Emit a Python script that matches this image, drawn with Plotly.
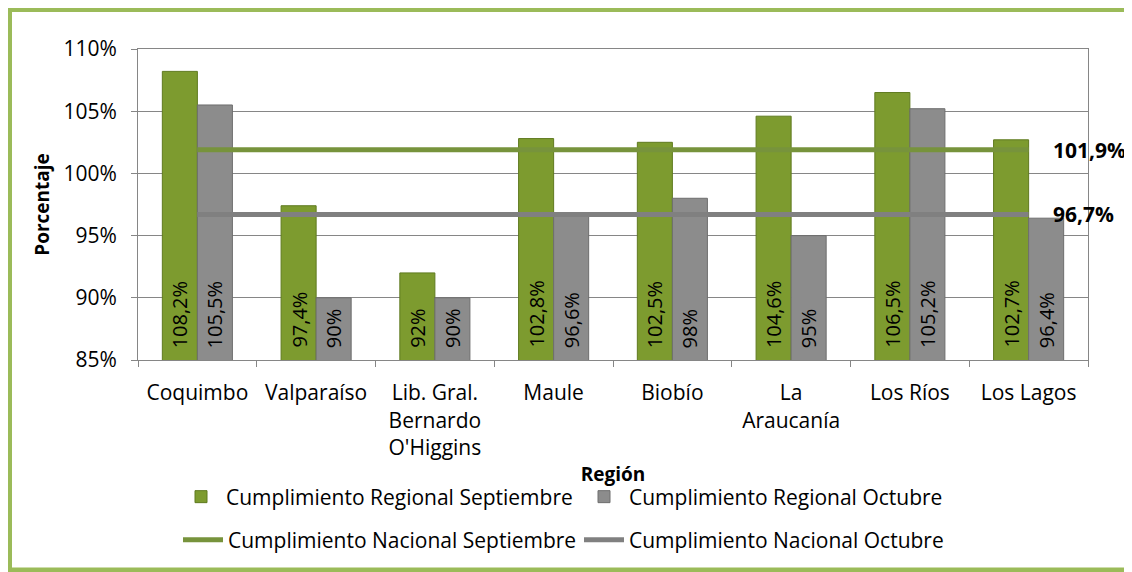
import plotly.graph_objects as go

regiones = ["Coquimbo", "Valparaíso", "Lib. Gral.<br>Bernardo<br>O'Higgins", "Maule",
            "Biobío", "La<br>Araucanía", "Los Ríos", "Los Lagos"]
regional_sep = [108.2, 97.4, 92, 102.8, 102.5, 104.6, 106.5, 102.7]
regional_oct = [105.5, 90, 90, 96.6, 98, 95, 105.2, 96.4]
nacional_sep = [101.9, 101.9, 101.9, 101.9, 101.9, 101.9, 101.9, 101.9]
nacional_oct = [96.7, 96.7, 96.7, 96.7, 96.7, 96.7, 96.7, 96.7]
y_ticks = [85, 90, 95, 100, 105, 110]

# page body has an 8px margin; positions below are in screen pixels
OFF = 8
W, H = 1132 - OFF, 572 - OFF
L, T = 138 - OFF, 49 - OFF
R = W - (1088 - OFF)
B = H - (360 - OFF)
pw, ph = W - L - R, H - T - B

def px(x):
    return (x - OFF - L) / pw

def py(y):
    return (H - B - (y - OFF)) / ph

def fmt(v):
    return f"{v:g}".replace(".", ",") + "%"

FONT = "Open Sans"
GREEN = "#7d9b2f"
GRAY = "#8c8c8c"
LGREEN = "#77933c"
LGRAY = "#808080"
GAP = 0.41
half = (1 - GAP) / 4  # half bar width in category units
bar_shift = half * pw / len(regiones)

fig = go.Figure()
fig.add_trace(go.Bar(
    x=regiones, y=regional_sep, name="Cumplimiento Regional Septiembre",
    marker=dict(color=GREEN, line=dict(color="#5f7a1f", width=1)),
    legend="legend",
))
fig.add_trace(go.Bar(
    x=regiones, y=regional_oct, name="Cumplimiento Regional Octubre",
    marker=dict(color=GRAY, line=dict(color="#6e6e6e", width=1)),
    legend="legend",
))
fig.add_trace(go.Scatter(
    x=regiones, y=nacional_sep, name="Cumplimiento Nacional Septiembre",
    mode="lines", line=dict(color=LGREEN, width=5), legend="legend2",
))
fig.add_trace(go.Scatter(
    x=regiones, y=nacional_oct, name="Cumplimiento Nacional Octubre",
    mode="lines", line=dict(color=LGRAY, width=5), legend="legend2",
))

# value labels at the bar bases
for vals, sh in ((regional_sep, -bar_shift), (regional_oct, bar_shift)):
    for reg, v in zip(regiones, vals):
        fig.add_annotation(x=reg, y=y_ticks[0], text=fmt(v), textangle=-90,
                           showarrow=False, xanchor="center", yanchor="bottom",
                           xshift=sh, yshift=10,
                           font=dict(family=FONT, size=20, color="black"))

for vals in (nacional_sep, nacional_oct):
    fig.add_annotation(x=regiones[-1], y=vals[-1], text="<b>" + fmt(vals[-1]) + "</b>",
                       showarrow=False, xanchor="left", yanchor="middle", xshift=22,
                       font=dict(family=FONT, size=21, color="black"))

fig.add_shape(type="rect", xref="paper", yref="paper",
              x0=px(9.5), x1=px(1150), y0=py(9.5), y1=py(570),
              line=dict(color="#9bbb59", width=5), fillcolor="rgba(0,0,0,0)", layer="below")

fig.update_layout(
    width=W, height=H,
    margin=dict(l=L, r=R, t=T, b=B, autoexpand=False),
    paper_bgcolor="white", plot_bgcolor="white",
    barmode="group", bargap=GAP, bargroupgap=0,
    font=dict(family=FONT, size=21, color="black"),
    legend=dict(orientation="h", x=px(176), xanchor="left", y=py(497), yanchor="middle",
                font=dict(family=FONT, size=21), itemwidth=40, tracegroupgap=0,
                entrywidth=348, entrywidthmode="pixels",
                bgcolor="rgba(0,0,0,0)"),
    legend2=dict(orientation="h", x=px(178), xanchor="left", y=py(540), yanchor="middle",
                 font=dict(family=FONT, size=21), itemwidth=40, tracegroupgap=0,
                 entrywidth=346, entrywidthmode="pixels",
                 bgcolor="rgba(0,0,0,0)"),
    showlegend=True,
)
fig.update_xaxes(
    range=[-0.5, len(regiones) - 0.5],
    showline=True, linecolor="#868686", linewidth=1, mirror=True,
    ticks="outside", tickson="boundaries", ticklen=6, tickcolor="#868686",
    tickfont=dict(family=FONT, size=21), ticklabelstandoff=14,
    title=dict(text="<b>Región</b>", font=dict(family=FONT, size=19), standoff=7),
)
fig.update_yaxes(
    range=[85, 110], tickvals=y_ticks, ticktext=[f"{v}%" for v in y_ticks],
    showgrid=True, gridcolor="#868686", gridwidth=1,
    showline=True, linecolor="#868686", linewidth=1, mirror=True,
    ticks="outside", ticklen=6, tickcolor="#868686",
    tickfont=dict(family=FONT, size=21), ticklabelstandoff=10,
    title=dict(text="<b>Porcentaje</b>", font=dict(family=FONT, size=19), standoff=8),
)

fig.write_html("out.html")
